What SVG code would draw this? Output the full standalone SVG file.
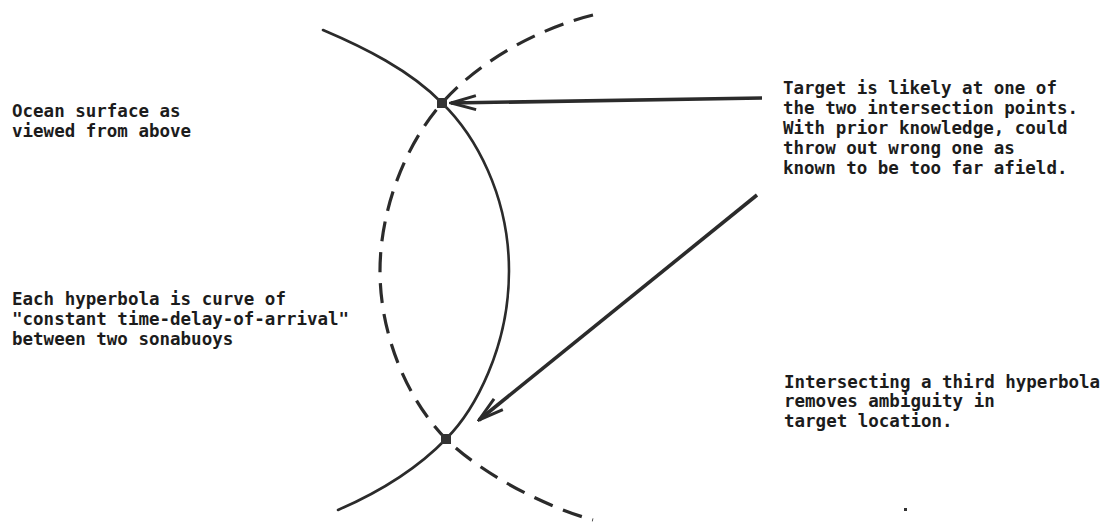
<svg xmlns="http://www.w3.org/2000/svg" width="1117" height="523" viewBox="0 0 1117 523">
  <style>
    .lbl { font-family: "DejaVu Sans Mono", "Liberation Mono", monospace; font-size: 17.5px; font-weight: bold; fill: #1c1c1c; }
    .curve { fill: none; stroke: #2b2b2b; stroke-width: 2.6; stroke-linecap: round; }
    .dashed { fill: none; stroke: #2b2b2b; stroke-width: 3.2; stroke-dasharray: 20 11; }
    .arrow { fill: none; stroke: #2b2b2b; stroke-width: 3.6; }
    .pt { fill: #333333; }
  </style>
  <defs>
    <marker id="chev" viewBox="-28 -10 30 20" refX="0" refY="0" markerWidth="30" markerHeight="20" markerUnits="userSpaceOnUse" orient="auto">
      <path d="M-25,-7 L0,0 L-25,7" fill="none" stroke="#2b2b2b" stroke-width="3" stroke-linejoin="miter"/>
    </marker>
  </defs>
  <rect width="1117" height="523" fill="#ffffff"/>

  <g id="hyperbola-solid">
    <path class="curve" d="M323,30 C363,47 410,70 442,103 C475,135 509,195 509,271 C509,347 475,410 446,439 C416,470 375,494 338,510"/>
  </g>
  <g id="hyperbola-dashed">
    <path class="dashed" d="M593,15 C540,28 480,60 442,103 C405,145 380,210 380,271 C380,332 405,397 446,439 C480,472 540,505 593,520"/>
  </g>

  <g id="intersection-top">
    <rect class="pt" x="437" y="98" width="10" height="10"/>
  </g>
  <g id="intersection-bottom">
    <rect class="pt" x="441" y="434" width="10" height="10"/>
  </g>

  <g id="connectors">
    <path class="arrow" d="M762,98 L451,103" marker-end="url(#chev)"/>
    <path class="arrow" d="M757,195 L479,420" marker-end="url(#chev)"/>
  </g>

  <g id="label-ocean">
    <text class="lbl" x="12" y="117">Ocean surface as</text>
    <text class="lbl" x="12" y="137">viewed from above</text>
  </g>
  <g id="label-hyperbola">
    <text class="lbl" x="12" y="305">Each hyperbola is curve of</text>
    <text class="lbl" x="12" y="325">"constant time-delay-of-arrival"</text>
    <text class="lbl" x="12" y="345">between two sonabuoys</text>
  </g>
  <g id="label-target">
    <text class="lbl" x="783" y="94">Target is likely at one of</text>
    <text class="lbl" x="783" y="114">the two intersection points.</text>
    <text class="lbl" x="783" y="134">With prior knowledge, could</text>
    <text class="lbl" x="783" y="154">throw out wrong one as</text>
    <text class="lbl" x="783" y="174">known to be too far afield.</text>
  </g>
  <g id="label-third">
    <text class="lbl" x="784" y="388">Intersecting a third hyperbola</text>
    <text class="lbl" x="784" y="407">removes ambiguity in</text>
    <text class="lbl" x="784" y="427">target location.</text>
  </g>
  <g id="speck">
    <rect class="pt" x="904" y="508" width="3" height="3"/>
  </g>
</svg>
